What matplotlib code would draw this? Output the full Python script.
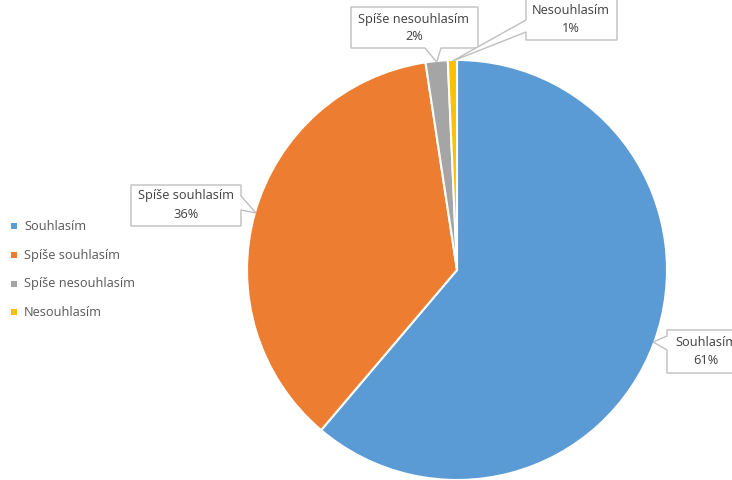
import numpy as np
import matplotlib
matplotlib.use("Agg")
import matplotlib.pyplot as plt
from matplotlib.patches import Polygon, Rectangle

# data (shares in %)
categories = ["Souhlasím", "Spíše souhlasím", "Spíše nesouhlasím", "Nesouhlasím"]
shares = [61.2, 36.4, 1.7, 0.7]
colors = ["#5B9BD5", "#ED7D31", "#A5A5A5", "#FFC000"]

W, H = 732, 480
plt.rcParams['font.family'] = ['Open Sans', 'DejaVu Sans']

fig = plt.figure(figsize=(W / 100, H / 100), dpi=100)
ax = fig.add_axes([0, 0, 1, 1])

# pie in pixel units (y up)
cx, cy, R = 457, H - 270, 210
wedges, _ = ax.pie(shares, colors=colors, startangle=90, counterclock=False,
                   center=(cx, cy), radius=R,
                   wedgeprops=dict(edgecolor="white", linewidth=1.5))
ax.set_aspect("auto")
ax.set_xlim(0, W)
ax.set_ylim(0, H)
ax.axis("off")


def px(x, y):
	# screen pixel -> data coords
	return (x, H - y)


def rim_point(w, frac=1.0):
	a = np.deg2rad((w.theta1 + w.theta2) / 2)
	return cx + R * frac * np.cos(a), cy + R * frac * np.sin(a)


# callout boxes: (left, top, right, bottom) in screen px, pointer side, base range, text centre
callouts = [
	(0, (667, 330, 748, 373), "left", (336, 350), (706, 352)),
	(1, (131, 185, 241, 226), "right", (196, 210), (186, 205)),
	(2, (351, 7, 478, 48), "bottom", (425, 441), (414, 28)),
	(3, (526, -22, 617, 40), "left", (20, 32), (571, 20)),
]

edge = "#BFBFBF"
tcol = "#404040"
for idx, (l, t, r, b), side, (b0, b1), (xc, yc) in callouts:
	tx, ty = rim_point(wedges[idx], 0.995)
	if side == "left":
		pts = [px(l, t), px(r, t), px(r, b), px(l, b), px(l, b1), (tx, ty), px(l, b0)]
	elif side == "right":
		pts = [px(l, t), px(r, t), px(r, b0), (tx, ty), px(r, b1), px(r, b), px(l, b)]
	else:
		pts = [px(l, t), px(r, t), px(r, b), px(b1, b), (tx, ty), px(b0, b), px(l, b)]
	ax.add_patch(Polygon(pts, closed=True, facecolor="white", edgecolor=edge,
	                     linewidth=1.0, zorder=5))
	label = "%s\n%d%%" % (categories[idx], round(shares[idx]))
	ax.text(xc, H - yc, label, ha="center", va="center",
	        fontsize=9.2, color=tcol, linespacing=1.5, zorder=6)

# legend on the left
leg_y = [226, 255, 284, 312]
for i, name in enumerate(categories):
	y = leg_y[i]
	ax.add_patch(Rectangle((11, H - y - 3), 6, 6, facecolor=colors[i], edgecolor="none"))
	ax.text(24, H - y, name, ha="left", va="center", fontsize=9.2, color="#595959")

fig.savefig("out.png", dpi=100)
